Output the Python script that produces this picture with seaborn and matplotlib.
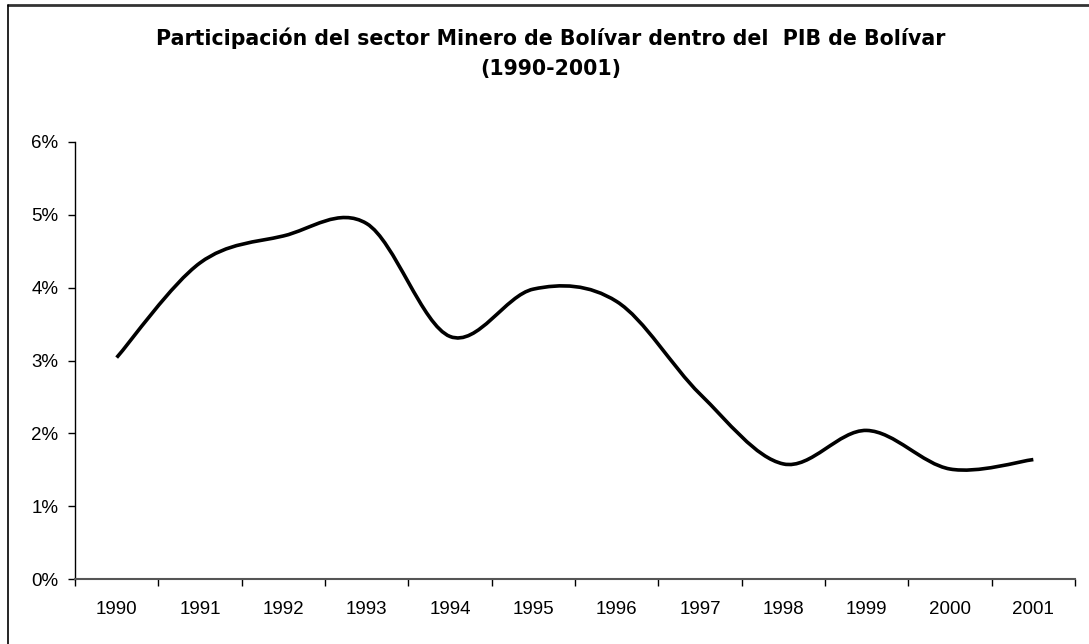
import numpy as np
import seaborn as sns
import matplotlib
matplotlib.use("Agg")
import matplotlib.pyplot as plt
from matplotlib.path import Path
from matplotlib.patches import PathPatch
from matplotlib.lines import Line2D
from matplotlib.ticker import FixedLocator, PercentFormatter

# participación del sector minero en el PIB de Bolívar (%)
years = ["1990", "1991", "1992", "1993", "1994", "1995",
         "1996", "1997", "1998", "1999", "2000", "2001"]
share = [3.04, 4.34, 4.71, 4.88, 3.33, 3.98, 3.81, 2.54, 1.58, 2.04, 1.51, 1.64]

title_1 = "Participación del sector Minero de Bolívar dentro del  PIB de Bolívar"
title_2 = "(1990-2001)"

sns.set_style("white")
plt.rcParams["font.family"] = ["Liberation Sans", "DejaVu Sans"]
plt.rcParams["text.color"] = "black"
plt.rcParams["xtick.color"] = "black"
plt.rcParams["ytick.color"] = "black"

fig = plt.figure(figsize=(10.89, 6.44), dpi=100)
ax = fig.add_axes([75 / 1089, 1 - 579 / 644, 1000 / 1089, 437 / 644])

# smoothed line like Excel: cubic bezier segments through every point
x = np.arange(len(years))
pts = np.column_stack([x, share])
padded = np.vstack([pts[0], pts, pts[-1]])
verts = [tuple(pts[0])]
codes = [Path.MOVETO]
for i in range(len(pts) - 1):
    p0, p1, p2, p3 = padded[i], padded[i + 1], padded[i + 2], padded[i + 3]
    verts += [tuple(p1 + (p2 - p0) / 6), tuple(p2 - (p3 - p1) / 6), tuple(p2)]
    codes += [Path.CURVE4] * 3
ax.add_patch(PathPatch(Path(verts, codes), fill=False, lw=2.6,
                       edgecolor="black", capstyle="butt", joinstyle="round"))

ax.set_xlim(-0.5, len(years) - 0.5)
ax.set_ylim(0, 6)

ax.xaxis.set_major_locator(FixedLocator(np.arange(-0.5, len(years))))
ax.xaxis.set_minor_locator(FixedLocator(x))
ax.set_xticklabels([], minor=False)
ax.set_xticks(x, years, minor=True)
ax.tick_params(axis="x", which="major", length=5, width=1, color="black", direction="out", bottom=True)
ax.tick_params(axis="x", which="minor", length=0, pad=15.5, labelsize=13.5, labelcolor="black")

ax.set_yticks(range(0, 7))
ax.yaxis.set_major_formatter(PercentFormatter(decimals=0))
ax.tick_params(axis="y", length=5, width=1, color="black", direction="out", left=True,
               pad=7, labelsize=13.5, labelcolor="black")

sns.despine(ax=ax)
ax.spines["left"].set_color("black")
ax.spines["left"].set_linewidth(1)
ax.spines["bottom"].set_color("#555555")
ax.spines["bottom"].set_linewidth(1.5)

# the original title is widely spaced bold Arial; DejaVu bold gives a similar width
fig.text(551 / 1089, 1 - 38 / 644, title_1, ha="center", va="center",
         fontsize=14.8, fontweight="bold", family="DejaVu Sans", color="black")
fig.text(551 / 1089, 1 - 69 / 644, title_2, ha="center", va="center",
         fontsize=14.8, fontweight="bold", family="DejaVu Sans", color="black")

# chart border (only top and left edges are visible in the crop)
fig.add_artist(Line2D([8 / 1089, 1], [1 - 5 / 644, 1 - 5 / 644], transform=fig.transFigure,
                      color="#333333", lw=2))
fig.add_artist(Line2D([8 / 1089, 8 / 1089], [0, 1 - 5 / 644], transform=fig.transFigure,
                      color="black", lw=1.2))

fig.savefig("out.png", dpi=100)
